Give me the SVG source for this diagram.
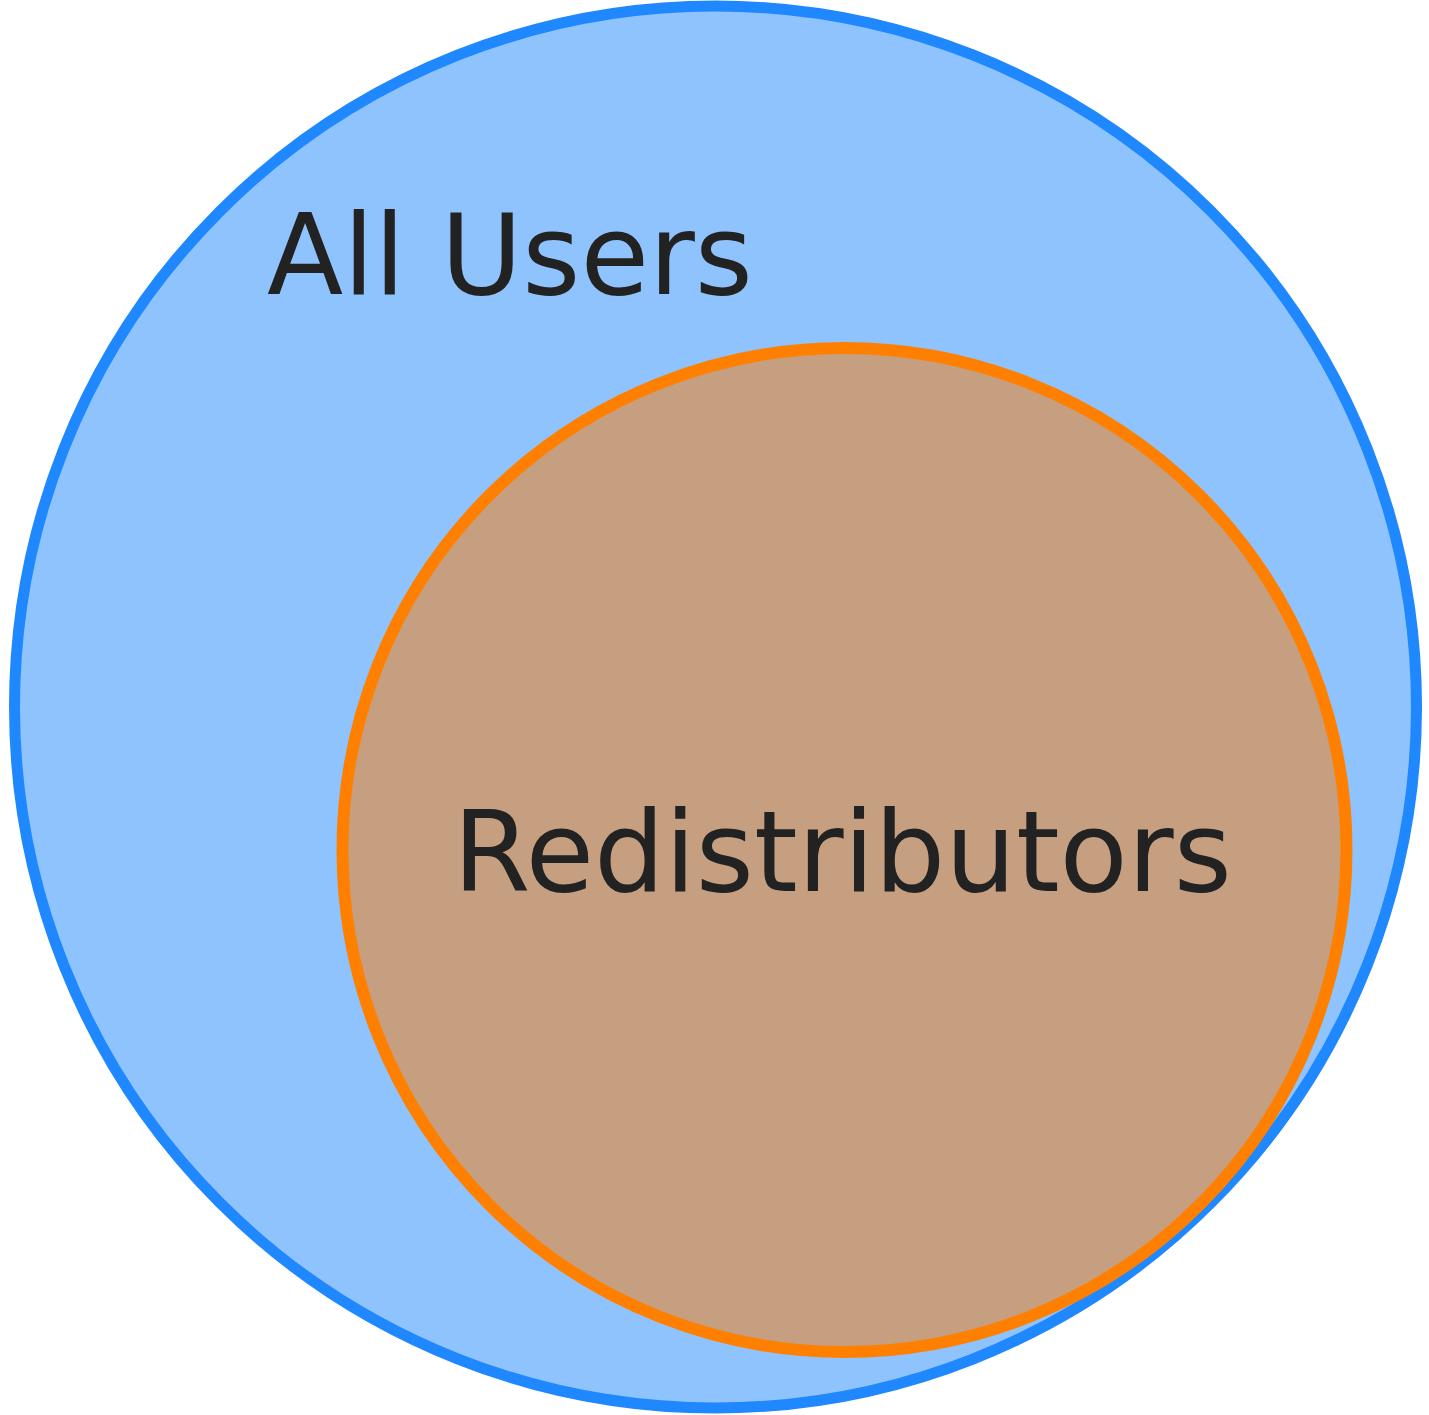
<svg xmlns="http://www.w3.org/2000/svg" width="1429" height="1415" viewBox="0 0 1429 1415">
<style>
.lbl{font-family:"DejaVu Sans",sans-serif;font-size:111.5px;fill:#222222}
</style>
<rect width="1429" height="1415" fill="#ffffff"/>
<g id="all-users">
<circle cx="715.5" cy="707" r="701" fill="#8fc3fe" stroke="#1f88ff" stroke-width="11"/>
<text class="lbl" x="267" y="294">All Users</text>
</g>
<g id="redistributors">
<circle cx="844.5" cy="850" r="502" fill="#c69f80" stroke="#ff8000" stroke-width="12"/>
<text class="lbl" x="453" y="891">Redistributors</text>
</g>
<g id="connectors"/>
</svg>
